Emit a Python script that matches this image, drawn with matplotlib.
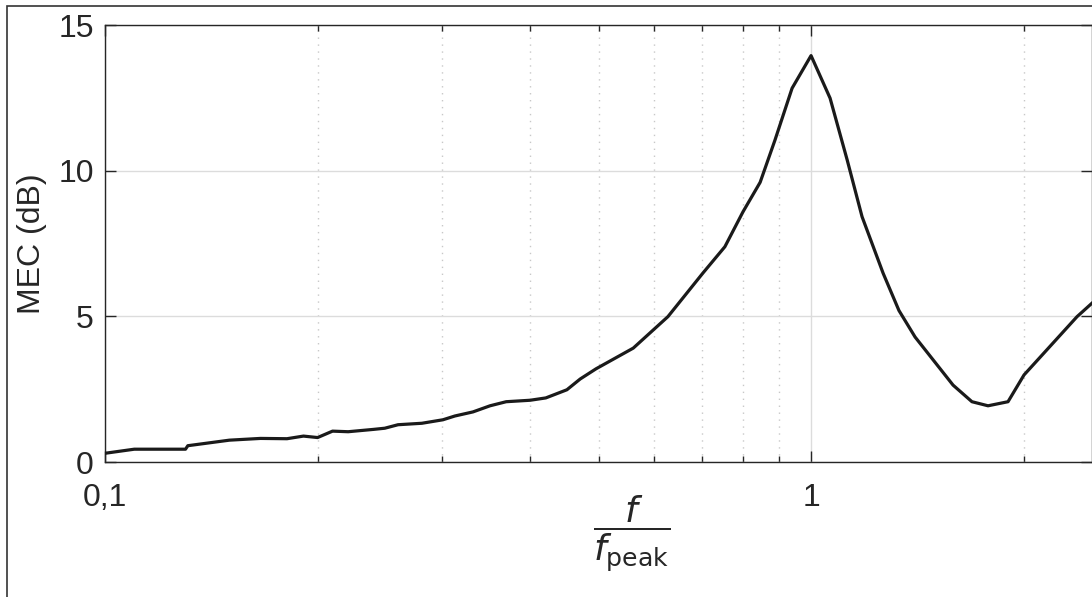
import matplotlib.pyplot as plt
import matplotlib.ticker as mticker
from matplotlib.patches import Rectangle

# MEC versus normalised frequency f/f_peak
f_ratio = [0.100, 0.110, 0.130, 0.131, 0.150, 0.166, 0.181, 0.191, 0.200, 0.210,
           0.221, 0.240, 0.249, 0.260, 0.281, 0.301, 0.313, 0.332, 0.351, 0.370,
           0.400, 0.421, 0.451, 0.471, 0.496, 0.560, 0.627, 0.703, 0.755, 0.801,
           0.847, 0.889, 0.940, 1.000, 1.064, 1.125, 1.181, 1.265, 1.332, 1.404,
           1.589, 1.690, 1.781, 1.901, 2.003, 2.381, 2.566]
mec_db = [0.30, 0.44, 0.44, 0.56, 0.75, 0.81, 0.80, 0.89, 0.84, 1.06,
          1.04, 1.12, 1.16, 1.28, 1.33, 1.45, 1.58, 1.72, 1.93, 2.07,
          2.12, 2.20, 2.48, 2.85, 3.20, 3.91, 4.99, 6.49, 7.39, 8.59,
          9.60, 11.05, 12.83, 13.95, 12.49, 10.37, 8.42, 6.48, 5.20, 4.29,
          2.64, 2.07, 1.93, 2.07, 2.99, 4.99, 5.70]

y_ticks = [0, 5, 10, 15]
x_ticks = [0.1, 1]
x_ticklabels = ['0,1', '1']

plt.rcParams['font.family'] = ['Liberation Sans', 'DejaVu Sans']
plt.rcParams['mathtext.fontset'] = 'dejavusans'
txt = '#262626'

fig = plt.figure(figsize=(10.92, 5.97), dpi=100)
ax = fig.add_axes([0.0962, 0.2261, 0.9038, 0.732])

ax.plot(f_ratio, mec_db, color='#1a1a1a', linewidth=2.3, zorder=3)

ax.set_xscale('log')
ax.set_xlim(0.1, 2.5)
ax.set_ylim(0, 15)
ax.set_xticks(x_ticks)
ax.set_xticklabels(x_ticklabels)
ax.xaxis.set_minor_locator(mticker.LogLocator(base=10, subs=range(2, 10)))
ax.xaxis.set_minor_formatter(mticker.NullFormatter())
ax.set_yticks(y_ticks)

ax.grid(True, which='major', color='#dcdcdc', linewidth=1.0, linestyle='-')
ax.grid(True, which='minor', axis='x', color='#c8c8c8', linewidth=1.0, linestyle=(0, (1, 4)))
ax.set_axisbelow(True)

ax.tick_params(which='both', direction='in', top=True, right=True,
               colors=txt, labelsize=23, width=1.0)
ax.tick_params(which='major', length=8)
ax.tick_params(which='minor', length=4)
ax.tick_params(axis='x', pad=15)
ax.tick_params(axis='y', pad=8)
for s in ax.spines.values():
    s.set_color(txt)
    s.set_linewidth(1.0)

ax.set_ylabel('MEC (dB)', fontsize=23, color=txt, labelpad=8)
ax.set_xlabel(r'$\dfrac{f}{f_{\mathrm{peak}}}$', fontsize=26, color=txt)
ax.xaxis.set_label_coords(0.534, -0.072)

# frame of the exported figure (cropped on right and bottom)
fig.add_artist(Rectangle((0.0064, -0.1), 1.2, 1.09, transform=fig.transFigure,
                         fill=False, edgecolor='#333333', linewidth=1.2, clip_on=False))

fig.savefig('out.png', dpi=100)
